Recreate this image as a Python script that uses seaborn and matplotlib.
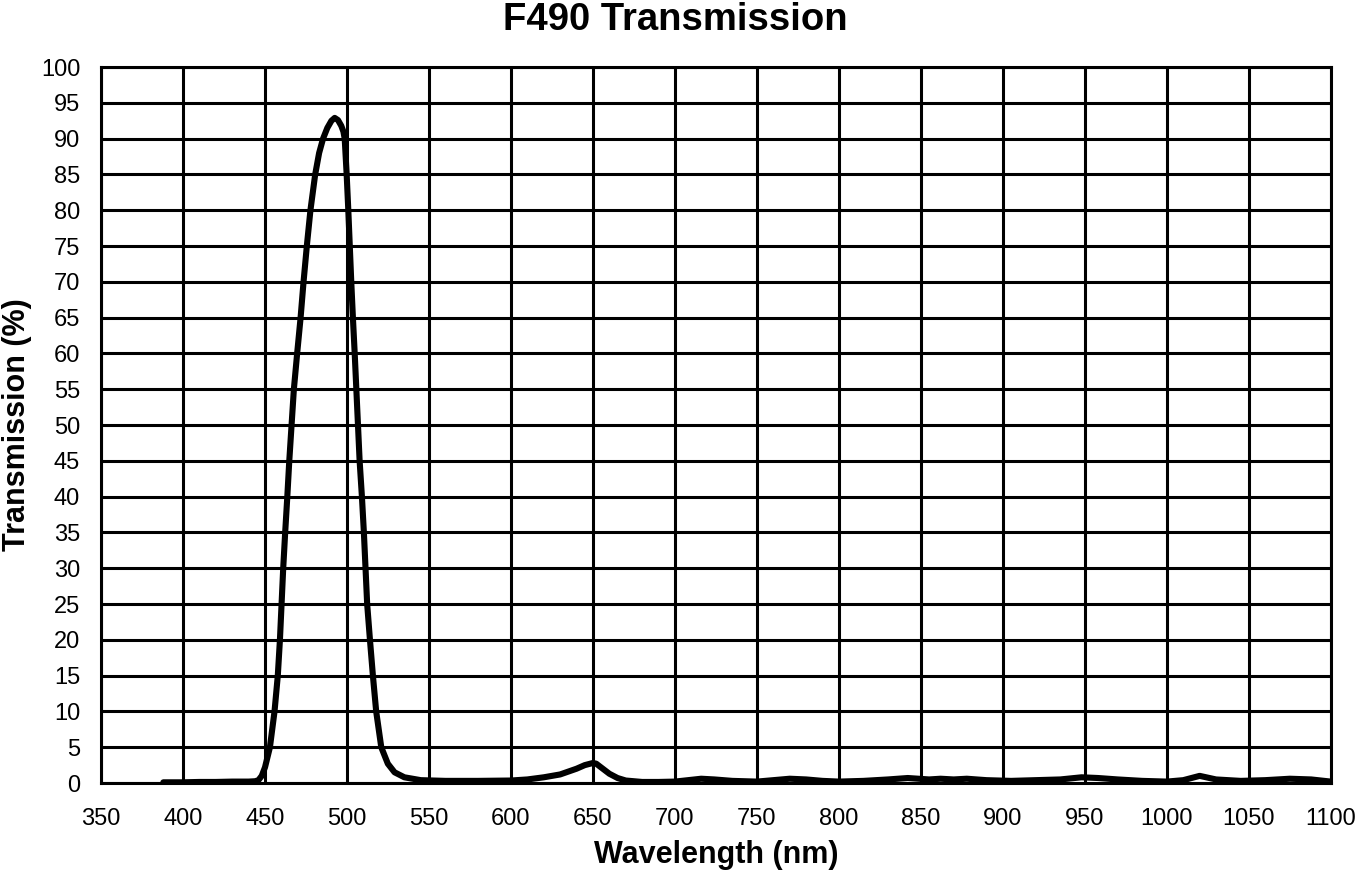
import matplotlib
matplotlib.use("Agg")
import matplotlib.pyplot as plt
import seaborn as sns
import pandas as pd

wavelength = [388, 400, 410, 420, 430, 440, 444, 446, 448, 450, 453, 455.8, 457.8, 459.1, 460.1,
              461.1, 462.3, 463.6, 464.8, 466.2, 467.6, 469.6, 471.7, 473.5, 475.5, 477.7, 480.6,
              483, 485.4, 488, 490.5, 492.5, 494.5, 496.5, 497.8, 498.6, 499.8, 500.8, 501.7,
              502.6, 503.6, 504.7, 505.7, 506.7, 507.7, 509.1, 510.3, 511.3, 512.3, 514.0, 515.8,
              517.8, 520.9, 524.9, 529, 535, 545, 560,
              580, 600, 610, 620, 630, 640, 645, 650, 652, 656, 660, 665, 670, 680, 690,
              700, 708, 716, 724, 735, 750, 760, 770, 780, 790, 800, 815, 830, 842, 855, 862,
              870, 878, 890, 905, 920, 935, 948, 958, 970, 985, 1000, 1010, 1020, 1030, 1045,
              1060, 1075, 1088, 1100]
transmission = [0.1, 0.1, 0.15, 0.15, 0.2, 0.2, 0.25, 0.4, 1.0, 2.2, 5.0, 10.0, 15.0, 20.0, 25.0,
                30.0, 35.0, 40.0, 45.0, 50.0, 55.0, 60.0, 65.0, 70.0, 75.0, 80.0, 85.0,
                88.0, 90.0, 91.5, 92.5, 92.9, 92.6, 91.8, 91.0, 90.0, 85.0, 80.0, 75.0,
                70.0, 65.0, 60.0, 55.0, 50.0, 45.0, 40.0, 35.0, 30.0, 25.0, 20.0, 15.0,
                10.0, 5.0, 2.7, 1.5, 0.8, 0.4, 0.3,
                0.3, 0.35, 0.5, 0.8, 1.2, 2.0, 2.5, 2.8, 2.7, 2.0, 1.3, 0.7, 0.35, 0.15, 0.15,
                0.2, 0.4, 0.6, 0.5, 0.3, 0.2, 0.4, 0.6, 0.5, 0.3, 0.2, 0.3, 0.5, 0.7, 0.5, 0.6,
                0.5, 0.6, 0.4, 0.3, 0.4, 0.5, 0.8, 0.7, 0.5, 0.3, 0.2, 0.4, 1.0, 0.5, 0.3,
                0.4, 0.6, 0.5, 0.2]

x_ticks = list(range(350, 1101, 50))
y_ticks = list(range(0, 101, 5))

df = pd.DataFrame({"Wavelength (nm)": wavelength, "Transmission (%)": transmission})

sns.set_theme(style="white")
plt.rcParams['font.family'] = ['Liberation Sans', 'DejaVu Sans']

fig = plt.figure(figsize=(13.58, 8.71), dpi=100)
ax = fig.add_axes([0.0744, 0.101, 0.9056, 0.822])

sns.lineplot(data=df, x="Wavelength (nm)", y="Transmission (%)", ax=ax,
             color="black", linewidth=4.4, zorder=3)

ax.set_xlim(350, 1100)
ax.set_ylim(0, 100)
ax.set_xticks(x_ticks)
ax.set_yticks(y_ticks)
ax.set_xticklabels([str(v) for v in x_ticks], fontsize=17)
ax.set_yticklabels([str(v) for v in y_ticks], fontsize=17)
ax.tick_params(axis='x', length=0, pad=18, colors='black')
ax.tick_params(axis='y', length=0, pad=15, colors='black')
ax.grid(True, color='black', linewidth=2.2)
for s in ax.spines.values():
    s.set_color('black')
    s.set_linewidth(2.2)

ax.set_xlabel("Wavelength (nm)", fontsize=22, fontweight='bold', color='black', labelpad=7)
ax.set_ylabel("Transmission (%)", fontsize=22, fontweight='bold', color='black', labelpad=6)
fig.text(0.497, 0.998, "F490 Transmission", fontsize=27.5, fontweight='bold',
         color='black', ha='center', va='top')

fig.savefig("out.png", dpi=100)
